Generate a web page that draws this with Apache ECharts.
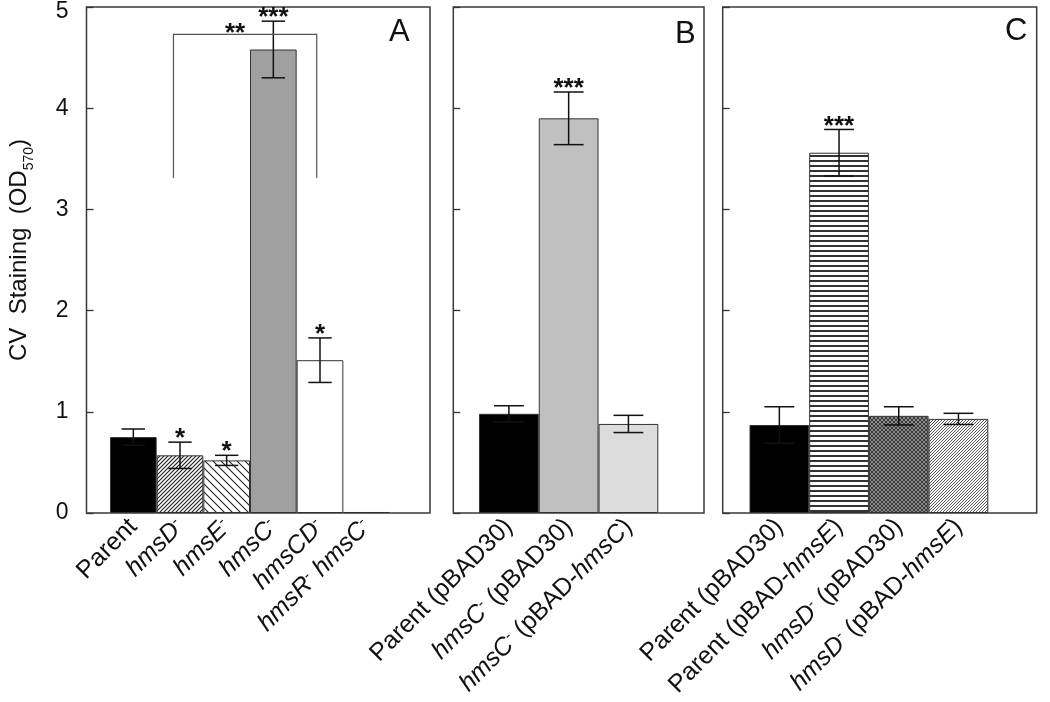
<!DOCTYPE html>
<html>
<head>
<meta charset="utf-8">
<script src="https://cdn.jsdelivr.net/npm/echarts@6/dist/echarts.min.js"></script>
<style>
html,body{margin:0;padding:0;background:#fff;}
#chart{width:1050px;height:702px;}
</style>
</head>
<body>
<div id="chart"></div>
<script>
// ---------------- data ----------------
const yTicks = [0, 1, 2, 3, 4, 5];
const catA = ['Parent', '{i|hmsD}{s|-}', '{i|hmsE}{s|-}', '{i|hmsC}{s|-}', '{i|hmsCD}{s|-}', '{i|hmsR}{s|-} {i|hmsC}{s|-}'];
const valA = [0.75, 0.57, 0.52, 4.58, 1.51, 0.01];
const errA = [0.08, 0.13, 0.05, 0.28, 0.22, 0];
const sigA = ['', '*', '*', '***', '*', ''];
const bracketA = [0.86, 3.93, 3.31, 4.73];
const bracketLabel = '**';

const catB = ['Parent (pBAD30)', '{i|hmsC}{s|-} (pBAD30)', '{i|hmsC}{s|-} (pBAD-{i|hmsC})'];
const valB = [0.98, 3.90, 0.88];
const errB = [0.08, 0.26, 0.085];
const sigB = ['', '***', ''];

const catC = ['Parent (pBAD30)', 'Parent (pBAD-{i|hmsE})', '{i|hmsD}{s|-} (pBAD30)', '{i|hmsD}{s|-} (pBAD-{i|hmsE})'];
const valC = [0.87, 3.56, 0.96, 0.93];
const errC = [0.18, 0.23, 0.09, 0.055];
const sigC = ['', '***', '', ''];

const panelLetters = ['A', 'B', 'C'];
const yName = 'CV  Staining  (OD{sub|570})';

// ---------------- styles ----------------
const FONT = '"Liberation Sans", Arial, Helvetica, sans-serif';
const LBL = 25;
function tile(w, h, draw) {
  const c = document.createElement('canvas');
  c.width = w; c.height = h;
  const ctx = c.getContext('2d');
  draw(ctx, w, h);
  return { image: c, repeat: 'repeat' };
}
function diag(size, dir, bg, fg, lw) {
  return tile(size, size, (ctx, s) => {
    ctx.fillStyle = bg; ctx.fillRect(0, 0, s, s);
    ctx.strokeStyle = fg; ctx.lineWidth = lw;
    ctx.beginPath();
    if (dir > 0) {
      ctx.moveTo(0, s); ctx.lineTo(s, 0);
      ctx.moveTo(-1, 1); ctx.lineTo(1, -1);
      ctx.moveTo(s - 1, s + 1); ctx.lineTo(s + 1, s - 1);
    } else {
      ctx.moveTo(0, 0); ctx.lineTo(s, s);
      ctx.moveTo(-1, s - 1); ctx.lineTo(1, s + 1);
      ctx.moveTo(s - 1, -1); ctx.lineTo(s + 1, 1);
    }
    ctx.stroke();
  });
}
const patHmsD = diag(4, 1, '#ffffff', '#222222', 1.2);
const patHmsE = diag(8, -1, '#ffffff', '#222222', 1.1);
const patHoriz = tile(8, 5, (ctx, w, h) => {
  ctx.fillStyle = '#ffffff'; ctx.fillRect(0, 0, w, h);
  ctx.fillStyle = '#333333'; ctx.fillRect(0, 0, w, 2);
});
const patCross = tile(4, 4, (ctx, s) => {
  ctx.fillStyle = '#8a8a8a'; ctx.fillRect(0, 0, s, s);
  ctx.strokeStyle = '#3a3a3a'; ctx.lineWidth = 1;
  ctx.beginPath();
  ctx.moveTo(0, s); ctx.lineTo(s, 0);
  ctx.moveTo(0, 0); ctx.lineTo(s, s);
  ctx.stroke();
});
const patFine = diag(3, 1, '#ffffff', '#555555', 1);

const fillsA = ['#000000', patHmsD, patHmsE, '#a0a0a0', '#ffffff', '#000000'];
const fillsB = ['#000000', '#c0c0c0', '#dcdcdc'];
const fillsC = ['#000000', patHoriz, patCross, patFine];

// layout (px)
const TOP = 7, H = 506;
const frames = [
  { left: 86.5, width: 343.5 },
  { left: 453.3, width: 250.7 },
  { left: 722.7, width: 314.0 }
];
const barAreas = [
  { left: 110, width: 280 },
  { left: 479, width: 179.3 },
  { left: 749.5, width: 238.8 }
];
const letterPos = [[389, 17], [675, 19], [1005, 16]];

const richLabel = {
  i: { fontStyle: 'italic', fontSize: LBL, fontFamily: FONT, color: '#111' },
  s: { fontSize: 15, fontFamily: FONT, color: '#111', verticalAlign: 'top' }
};

const grids = [], xAxes = [], yAxes = [], series = [];
frames.forEach((f, k) => {
  grids.push({ left: f.left, top: TOP, width: f.width, height: H, show: true,
    borderColor: '#3a3a3a', borderWidth: 1.5, backgroundColor: 'transparent' });
  xAxes.push({ gridIndex: k, type: 'value', min: 0, max: 1, show: false });
  yAxes.push({
    gridIndex: k, type: 'value', min: yTicks[0], max: yTicks[yTicks.length - 1], interval: 1,
    axisLine: { show: false },
    axisTick: { show: true, inside: true, length: 7, lineStyle: { color: '#333', width: 1.3 } },
    splitLine: { show: false },
    axisLabel: {
      show: k === 0, fontSize: 23, fontFamily: FONT, color: '#111', margin: 18,
      formatter: v => v === 5 ? '{t|5}' : String(v),
      rich: { t: { fontSize: 23, fontFamily: FONT, color: '#111', padding: [10, 0, 0, 0] } }
    },
    name: k === 0 ? yName : '',
    nameLocation: 'middle', nameRotate: 90, nameGap: 50,
    nameTextStyle: { fontSize: 24, fontFamily: FONT, color: '#111', padding: [0, 0, 0, 20],
      rich: { sub: { fontSize: 14, fontFamily: FONT, color: '#111', verticalAlign: 'bottom', lineHeight: 34 } } }
  });
});

const panels = [
  { cat: catA, val: valA, err: errA, sig: sigA, fills: fillsA },
  { cat: catB, val: valB, err: errB, sig: sigB, fills: fillsB },
  { cat: catC, val: valC, err: errC, sig: sigC, fills: fillsC }
];
panels.forEach((p, k) => {
  const gi = 3 + k;
  const b = barAreas[k];
  grids.push({ left: b.left, top: TOP, width: b.width, height: H });
  xAxes.push({
    gridIndex: gi, type: 'category', data: p.cat,
    axisLine: { show: false }, axisTick: { show: false },
    axisLabel: { interval: 0, rotate: 45, margin: 10, fontSize: LBL, fontFamily: FONT, color: '#111', rich: richLabel }
  });
  yAxes.push({ gridIndex: gi, type: 'value', min: 0, max: 5, show: false });
  series.push({
    type: 'bar', xAxisIndex: gi, yAxisIndex: gi, barCategoryGap: '0%', barWidth: '100%',
    data: p.val.map((v, i) => ({ value: v, itemStyle: { color: p.fills[i] } })),
    itemStyle: { borderColor: '#333', borderWidth: 1 },
    silent: true, z: 2
  });
  series.push({
    type: 'custom', xAxisIndex: gi, yAxisIndex: gi, silent: true, z: 5,
    data: p.val.map((v, i) => [i, v, p.err[i]]),
    encode: { x: 0, y: 1 },
    renderItem: (params, api) => {
      const i = api.value(0), v = api.value(1), e = api.value(2);
      const cx = api.coord([i, v])[0];
      const top = api.coord([i, v + e])[1];
      const bot = api.coord([i, Math.max(0, v - e)])[1];
      const bw = api.size([1, 0])[0];
      const hw = bw / 4;
      const st = { stroke: '#111', lineWidth: 1.5 };
      const ch = [];
      if (e > 0) {
        ch.push({ type: 'line', shape: { x1: cx, y1: top, x2: cx, y2: bot }, style: st });
        ch.push({ type: 'line', shape: { x1: cx - hw, y1: top, x2: cx + hw, y2: top }, style: st });
        ch.push({ type: 'line', shape: { x1: cx - hw, y1: bot, x2: cx + hw, y2: bot }, style: st });
      }
      const s = p.sig[params.dataIndex];
      if (s) ch.push({ type: 'text', style: { text: s, x: cx, y: top - 3, align: 'center', verticalAlign: 'middle',
        font: 'bold 26px ' + FONT, fill: '#111' } });
      return { type: 'group', children: ch };
    }
  });
});

// bracket in panel A
series.push({
  type: 'custom', xAxisIndex: 3, yAxisIndex: 3, silent: true, z: 5,
  data: [bracketA],
  renderItem: (params, api) => {
    const f = api.value(0), t = api.value(1), lo = api.value(2), hi = api.value(3);
    const bw = api.size([1, 0])[0];
    const c0 = api.coord([Math.round(f), lo]);
    const c1 = api.coord([Math.round(t), lo]);
    const x0 = c0[0] + (f - Math.round(f)) * bw;
    const x1 = c1[0] + (t - Math.round(t)) * bw;
    const yLo = c0[1];
    const yHi = api.coord([0, hi])[1];
    return { type: 'group', children: [
      { type: 'polyline', shape: { points: [[x0, yLo], [x0, yHi], [x1, yHi], [x1, yLo]] },
        style: { stroke: '#555', lineWidth: 1.2, fill: null } },
      { type: 'text', style: { text: bracketLabel, x: (x0 + x1) / 2 - 10, y: yHi, align: 'center',
        verticalAlign: 'middle', font: 'bold 26px ' + FONT, fill: '#111' } }
    ] };
  }
});

const graphics = panelLetters.map((t, k) => ({
  type: 'text', left: letterPos[k][0], top: letterPos[k][1],
  style: { text: t, font: '31px ' + FONT, fill: '#111' }, z: 10
}));

const chart = echarts.init(document.getElementById('chart'), null, { renderer: 'canvas' });
chart.setOption({
  animation: false,
  backgroundColor: '#ffffff',
  grid: grids, xAxis: xAxes, yAxis: yAxes, series: series,
  graphic: graphics
});
</script>
</body>
</html>
